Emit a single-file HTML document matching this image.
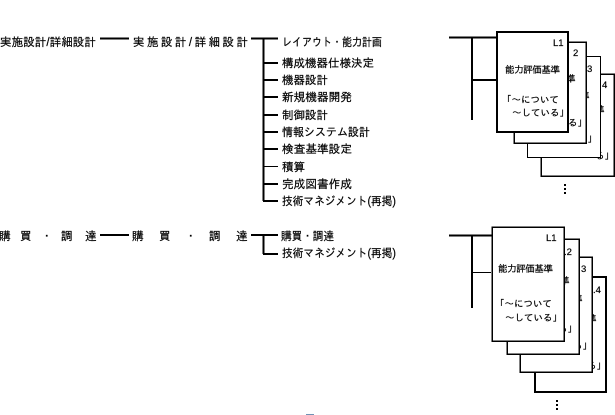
<!DOCTYPE html>
<html><head><meta charset="utf-8"><style>
html,body{margin:0;padding:0;background:#fff;width:615px;height:415px;overflow:hidden}
svg{display:block}
text{font-family:"Liberation Sans","IPAGothic","Noto Sans CJK JP",sans-serif;font-size:11.5px;fill:#000;stroke:#000;stroke-width:.2px}
.s{font-size:9.5px}
.p{fill:#fff;stroke:#000}
</style></head><body>
<svg width="615" height="415" viewBox="0 0 615 415" shape-rendering="crispEdges">
<rect width="615" height="415" fill="#fff"/>
<g stroke="#000" fill="none">
<path d="M100 38.5H129M251 38.5H278M100 235H129M251 235H278" stroke-width="2"/>
<path d="M263.5 38V201M263.5 235V254" stroke-width="2"/>
<path d="M263 63H278M263 80H278M263 97H278M263 115H278M263 132H278M263 149H278M263 184H278M263 201H278M263 254H278" stroke-width="2"/>
<path d="M263 166.5H278" stroke-width="1"/>
<path d="M449 37.5H497M472 37.5V120M472 80H497" stroke-width="2"/>
<path d="M449 235.5H493M472 235.5V308" stroke-width="2"/>
<path d="M472 272.5H491" stroke-width="1"/>
</g>
<text x="0" y="46" textLength="96" lengthAdjust="spacingAndGlyphs">実施設計/詳細設計</text>
<text x="133" y="46" textLength="115" lengthAdjust="spacing">実施設計/詳細設計</text>
<text x="282" y="46" textLength="100" lengthAdjust="spacingAndGlyphs">レイアウト・能力計画</text>
<text x="282" y="67" textLength="92" lengthAdjust="spacingAndGlyphs">構成機器仕様決定</text>
<text x="282" y="84" textLength="46" lengthAdjust="spacingAndGlyphs">機器設計</text>
<text x="282" y="101" textLength="70" lengthAdjust="spacingAndGlyphs">新規機器開発</text>
<text x="282" y="119" textLength="46" lengthAdjust="spacingAndGlyphs">制御設計</text>
<text x="282" y="136" textLength="88" lengthAdjust="spacingAndGlyphs">情報システム設計</text>
<text x="282" y="153" textLength="70" lengthAdjust="spacingAndGlyphs">検査基準設定</text>
<text x="282" y="171" textLength="23" lengthAdjust="spacingAndGlyphs">積算</text>
<text x="282" y="188" textLength="70" lengthAdjust="spacingAndGlyphs">完成図書作成</text>
<text x="282" y="205" textLength="114" lengthAdjust="spacingAndGlyphs">技術マネジメント(再掲)</text>
<text x="-1" y="240">購</text><text x="20" y="240">買</text><text x="41" y="240">・</text><text x="61" y="240">調</text><text x="85" y="240">達</text>
<text x="132" y="240">購</text><text x="159" y="240">買</text><text x="185" y="240">・</text><text x="209" y="240">調</text><text x="236" y="240">達</text>
<text x="281" y="240" textLength="53" lengthAdjust="spacingAndGlyphs">購買・調達</text>
<text x="282" y="257" textLength="114" lengthAdjust="spacingAndGlyphs">技術マネジメント(再掲)</text>

<!-- upper stack, back to front -->
<rect class="p" x="541" y="74" width="73" height="102" stroke-width="1.5"/>
<text class="s" x="602" y="88">4</text>
<text class="s" x="595" y="113">準</text>
<text class="s" x="595" y="159">る」</text>
<rect class="p" x="527.5" y="56.5" width="73" height="101" stroke-width="1"/>
<text class="s" x="587" y="72">3</text>
<text class="s" x="580" y="99">準</text>
<text class="s" x="578" y="142">る」</text>
<rect class="p" x="514" y="42" width="72" height="101" stroke-width="1.5"/>
<text class="s" x="573" y="56">2</text>
<text class="s" x="566" y="82">準</text>
<text class="s" x="568" y="126">る」</text>
<rect class="p" x="497" y="32" width="71" height="100" stroke-width="2"/>
<text class="s" x="553" y="46">L1</text>
<text class="s" x="505" y="73" textLength="55" lengthAdjust="spacing">能力評価基準</text>
<text class="s" x="502" y="103">「～について</text>
<text class="s" x="512" y="116">～している」</text>

<!-- lower stack, back to front -->
<rect class="p" x="535" y="277" width="71" height="115" stroke-width="2"/>
<text class="s" x="593" y="293">.4</text>
<text class="s" x="587" y="322">準</text>
<text class="s" x="587" y="369">る」</text>
<rect class="p" x="520" y="257" width="72" height="115" stroke-width="1.5"/>
<text class="s" x="581" y="272">3</text>
<text class="s" x="573" y="302">準</text>
<text class="s" x="573" y="349">る」</text>
<rect class="p" x="507" y="239" width="72" height="115" stroke-width="1.5"/>
<text class="s" x="564" y="255">.2</text>
<text class="s" x="560" y="284">準</text>
<text class="s" x="558" y="332">る」</text>
<rect class="p" x="492" y="227" width="72" height="114" stroke-width="1.5"/>
<text class="s" x="546" y="241">L1</text>
<text class="s" x="498" y="272" textLength="55" lengthAdjust="spacing">能力評価基準</text>
<text class="s" x="495" y="307">「～について</text>
<text class="s" x="505" y="321">～している」</text>

<g fill="#000">
<rect x="564" y="184" width="2" height="2"/><rect x="564" y="188" width="2" height="2"/><rect x="564" y="192" width="2" height="2"/>
<rect x="556" y="400" width="2" height="2"/><rect x="556" y="404" width="2" height="2"/><rect x="556" y="408" width="2" height="2"/>
</g>
<rect x="306" y="414" width="8" height="1" fill="#6f93b5"/>
</svg>
</body></html>
